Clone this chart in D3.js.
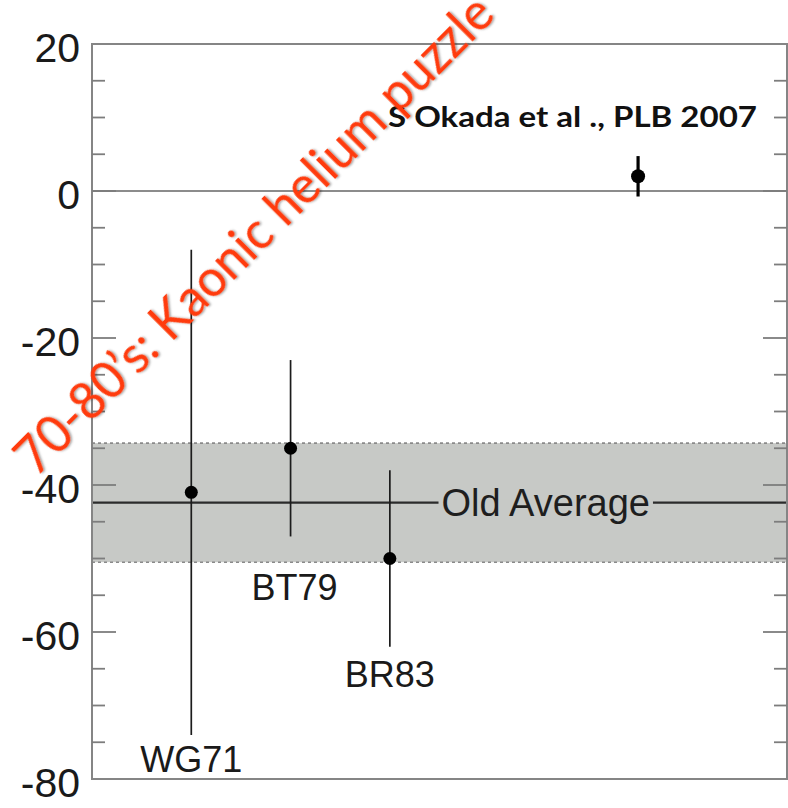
<!DOCTYPE html>
<html>
<head>
<meta charset="utf-8">
<script src="https://cdn.jsdelivr.net/npm/d3@7"></script>
<style>
  html, body { margin: 0; padding: 0; background: #fff; }
  svg { display: block; }
</style>
</head>
<body>
<svg id="chart" width="788" height="808"></svg>
<script>
var names = ["WG71", "BT79", "BR83"];
var xPos = [1, 2, 3];
var shift = [-41, -35, -50];
var shiftErr = [33, 12, 12];
// where each name sits (data units)
var nameX = [1, 2.04, 3];
var nameY = [-79, -55.6, -67.5];

// new result
var okadaX = [5.5];
var okadaShift = [2];
var okadaErr = [2.75];
var okadaLabel = "S Okada et al ., PLB 2007";

// old average band
var oldAvg = -42.4;
var oldAvgErr = 8.1;
var oldAvgLabel = "Old Average";
var oldAvgLabelX = 4.57;

var yTickValues = [-80, -60, -40, -20, 0, 20];
var title = "70-80\u2019s: Kaonic helium puzzle";

var svg = d3.select("#chart"),
    margin = {top: 44, right: 1, bottom: 29, left: 92},
    width = +svg.attr("width") - margin.left - margin.right,
    height = +svg.attr("height") - margin.top - margin.bottom;

var x = d3.scaleLinear().domain([0, 7]).range([margin.left, margin.left + width]);
var y = d3.scaleLinear().domain([-80, 20]).range([margin.top + height, margin.top]);

var defs = svg.append("defs");
var f = defs.append("filter").attr("id", "shadow")
    .attr("x", "-10%").attr("y", "-10%").attr("width", "120%").attr("height", "120%");
f.append("feDropShadow").attr("dx", 1.2).attr("dy", 1.2).attr("stdDeviation", 0.8)
    .attr("flood-color", "#000").attr("flood-opacity", 0.4);

// band
svg.append("rect")
    .attr("x", x(0))
    .attr("y", y(oldAvg + oldAvgErr))
    .attr("width", x(7) - x(0))
    .attr("height", y(oldAvg - oldAvgErr) - y(oldAvg + oldAvgErr))
    .attr("fill", "#c7c9c6");

[oldAvg + oldAvgErr, oldAvg - oldAvgErr].forEach(function(v) {
  svg.append("line")
      .attr("x1", x(0)).attr("x2", x(7))
      .attr("y1", y(v)).attr("y2", y(v))
      .attr("stroke", "#8a8a8a")
      .attr("stroke-width", 1.6)
      .attr("stroke-dasharray", "3,3");
});

// zero line
svg.append("line")
    .attr("x1", x(0)).attr("x2", x(7))
    .attr("y1", y(0)).attr("y2", y(0))
    .attr("stroke", "#8c8c8c")
    .attr("stroke-width", 2);

// old average line, broken by its label
svg.append("line")
    .attr("x1", x(0)).attr("x2", x(7))
    .attr("y1", y(oldAvg)).attr("y2", y(oldAvg))
    .attr("stroke", "#2b2b2b")
    .attr("stroke-width", 2.2);

var avgText = svg.append("text")
    .attr("x", x(oldAvgLabelX))
    .attr("y", y(oldAvg) + 13)
    .attr("text-anchor", "middle")
    .attr("font-family", "Liberation Sans, Arial, sans-serif")
    .attr("font-size", 38)
    .attr("fill", "#1e1e1e")
    .text(oldAvgLabel);
var bb = avgText.node().getBBox();
svg.insert("rect", "text")
    .attr("x", bb.x - 3).attr("width", bb.width + 6)
    .attr("y", y(oldAvg) - 3).attr("height", 6)
    .attr("fill", "#c7c9c6");

// frame
svg.append("rect")
    .attr("x", x(0)).attr("y", y(20))
    .attr("width", x(7) - x(0)).attr("height", y(-80) - y(20))
    .attr("fill", "none")
    .attr("stroke", "#858585")
    .attr("stroke-width", 2);

// ticks left and right (inward)
var minor = y.ticks(20);
var tickG = svg.append("g").attr("stroke", "#7d7d7d").attr("stroke-width", 1.8);
minor.forEach(function(t) {
  if (t === 20 || t === -80) return;
  var len = yTickValues.indexOf(t) >= 0 ? 24 : 13;
  tickG.append("line").attr("x1", x(0)).attr("x2", x(0) + len).attr("y1", y(t)).attr("y2", y(t));
  tickG.append("line").attr("x1", x(7)).attr("x2", x(7) - len).attr("y1", y(t)).attr("y2", y(t));
});

svg.append("g").selectAll("text")
    .data(yTickValues)
  .enter().append("text")
    .attr("x", x(0) - 12)
    .attr("y", function(d) { return y(d) + 18; })
    .attr("text-anchor", "end")
    .attr("font-family", "Liberation Sans, Arial, sans-serif")
    .attr("font-size", 41)
    .attr("fill", "#1a1a1a")
    .text(function(d) { return d; });

// error bars
svg.append("g").selectAll("line")
    .data(shift)
  .enter().append("line")
    .attr("x1", function(d, i) { return x(xPos[i]); })
    .attr("x2", function(d, i) { return x(xPos[i]); })
    .attr("y1", function(d, i) { return y(d + shiftErr[i]); })
    .attr("y2", function(d, i) { return y(d - shiftErr[i]); })
    .attr("stroke", "#1c1c1c")
    .attr("stroke-width", 1.7);

svg.append("g").selectAll("circle")
    .data(shift)
  .enter().append("circle")
    .attr("cx", function(d, i) { return x(xPos[i]); })
    .attr("cy", function(d) { return y(d); })
    .attr("r", 6.5)
    .attr("fill", "#000");

svg.append("g").selectAll("text")
    .data(names)
  .enter().append("text")
    .attr("x", function(d, i) { return x(nameX[i]); })
    .attr("y", function(d, i) { return y(nameY[i]); })
    .attr("text-anchor", "middle")
    .attr("font-family", "Liberation Sans, Arial, sans-serif")
    .attr("font-size", 36)
    .attr("fill", "#1a1a1a")
    .text(function(d) { return d; });

// Okada point
svg.append("g").selectAll("line")
    .data(okadaShift)
  .enter().append("line")
    .attr("x1", function(d, i) { return x(okadaX[i]); })
    .attr("x2", function(d, i) { return x(okadaX[i]); })
    .attr("y1", function(d, i) { return y(d + okadaErr[i]); })
    .attr("y2", function(d, i) { return y(d - okadaErr[i]); })
    .attr("stroke", "#000")
    .attr("stroke-width", 3.2);

svg.append("g").selectAll("circle")
    .data(okadaShift)
  .enter().append("circle")
    .attr("cx", function(d, i) { return x(okadaX[i]); })
    .attr("cy", function(d) { return y(d); })
    .attr("r", 7)
    .attr("fill", "#000");

svg.append("text")
    .attr("x", 388)
    .attr("y", 127)
    .attr("font-family", "Lato, 'Open Sans', sans-serif")
    .attr("font-weight", "bold")
    .attr("font-size", 28)
    .attr("textLength", 369)
    .attr("lengthAdjust", "spacingAndGlyphs")
    .attr("fill", "#111")
    .text(okadaLabel);

// red overlay title
svg.append("text")
    .attr("transform", "translate(36,478) rotate(-45)")
    .attr("font-family", "Lato, 'Open Sans', sans-serif")
    .attr("font-size", 52)
    .attr("textLength", 652)
    .attr("lengthAdjust", "spacingAndGlyphs")
    .attr("fill", "#ff3a0a")
    .attr("filter", "url(#shadow)")
    .text(title);
</script>
</body>
</html>
